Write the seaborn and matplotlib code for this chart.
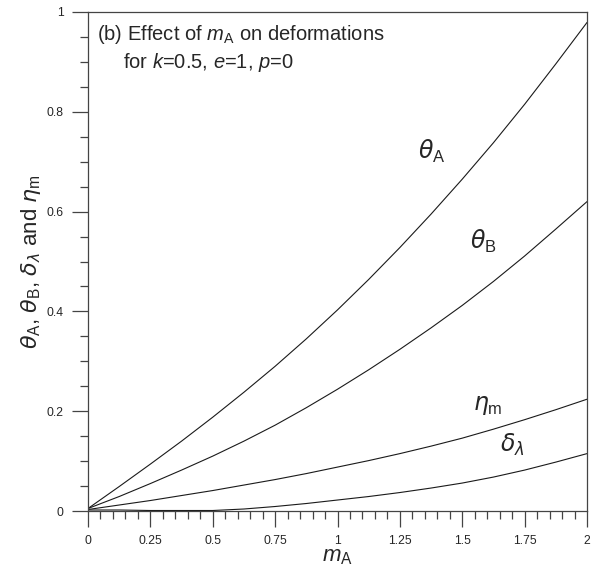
import numpy as np
import pandas as pd
import matplotlib
matplotlib.use("Agg")
import matplotlib.pyplot as plt
from matplotlib.ticker import MultipleLocator, FixedLocator
import seaborn as sns

# ---- data ----
m_A = [0.0, 0.125, 0.25, 0.375, 0.5, 0.625, 0.75, 0.875, 1.0,
       1.125, 1.25, 1.375, 1.5, 1.625, 1.75, 1.875, 2.0]
theta_A = [0.005, 0.049, 0.094, 0.140, 0.188, 0.238, 0.290, 0.345, 0.403,
           0.464, 0.528, 0.595, 0.665, 0.738, 0.815, 0.896, 0.979]
theta_B = [0.005, 0.029, 0.055, 0.082, 0.110, 0.140, 0.172, 0.207, 0.244,
           0.283, 0.324, 0.367, 0.412, 0.460, 0.511, 0.565, 0.620]
eta_m = [0.003, 0.012, 0.021, 0.031, 0.041, 0.052, 0.063, 0.075, 0.088,
         0.101, 0.115, 0.130, 0.146, 0.164, 0.183, 0.203, 0.224]
delta_l = [0.002, 0.002, 0.001, 0.001, 0.001, 0.004, 0.009, 0.015, 0.022,
           0.029, 0.037, 0.046, 0.056, 0.068, 0.082, 0.098, 0.115]

series_names = ["thetaA", "thetaB", "eta", "delta"]
series_vals = [theta_A, theta_B, eta_m, delta_l]

x_ticks = [0, 0.25, 0.5, 0.75, 1, 1.25, 1.5, 1.75, 2]
x_tick_labels = ["0", "0.25", "0.5", "0.75", "1", "1.25", "1.5", "1.75", "2"]
y_ticks = [0, 0.2, 0.4, 0.6, 0.8, 1.0]
y_tick_labels = ["0", "0.2", "0.4", "0.6", "0.8", "1"]

df = pd.concat([pd.DataFrame({"m": m_A, "v": v, "s": n})
                for n, v in zip(series_names, series_vals)], ignore_index=True)

sns.set_style("white")
plt.rcParams["font.family"] = ["Liberation Sans", "DejaVu Sans"]
plt.rcParams["mathtext.fontset"] = "custom"
plt.rcParams["mathtext.rm"] = "Liberation Sans"
plt.rcParams["mathtext.it"] = "DejaVu Sans:italic"
plt.rcParams["mathtext.sf"] = "Liberation Sans:italic"
plt.rcParams["mathtext.bf"] = "Liberation Sans:bold"

fig = plt.figure(figsize=(5.98, 5.79), dpi=100)
ax = fig.add_axes([88 / 598, 68 / 579, (587 - 88) / 598, (511 - 12) / 579])

sns.lineplot(data=df, x="m", y="v", hue="s", palette=["#1a1a1a"] * 4,
             linewidth=0.8, legend=False, ax=ax)

ax.set_xlim(0, 2)
ax.set_ylim(0, 1)
ax.xaxis.set_major_locator(FixedLocator(x_ticks))
ax.set_xticklabels(x_tick_labels)
ax.yaxis.set_major_locator(FixedLocator(y_ticks))
ax.set_yticklabels(y_tick_labels)
ax.xaxis.set_minor_locator(MultipleLocator(0.05))
ax.yaxis.set_minor_locator(MultipleLocator(0.05))
ax.tick_params(which="major", direction="out", length=11.5, width=0.9,
               color="#444444", labelsize=8.7, pad=6, bottom=True, left=True)
ax.tick_params(which="minor", direction="out", length=5.8, width=0.9,
               color="#444444", bottom=True, left=True)
for sp in ax.spines.values():
    sp.set_color("#444444")
    sp.set_linewidth(0.9)

ax.set_xlabel(r"$\mathsf{m}_{\rm A}$", fontsize=16, labelpad=-1)
ax.set_ylabel(r"$\theta_{\rm A}$, $\theta_{\rm B}$, $\delta_{\lambda}$ and $\eta_{\rm m}$",
              fontsize=16, labelpad=3)

ax.text(0.018, 0.977, r"(b) Effect of $\mathsf{m}_{\rm A}$ on deformations",
        transform=ax.transAxes, fontsize=14.5, va="top", ha="left")
ax.text(0.07, 0.921, r"for $\mathsf{k}$=0.5, $\mathsf{e}$=1, $\mathsf{p}$=0",
        transform=ax.transAxes, fontsize=14.5, va="top", ha="left")

ax.text(1.323, 0.72, r"$\theta_{\rm A}$", fontsize=17, va="center", ha="left")
ax.text(1.531, 0.54, r"$\theta_{\rm B}$", fontsize=17, va="center", ha="left")
ax.text(1.543, 0.212, r"$\eta_{\rm m}$", fontsize=17, va="center", ha="left")
ax.text(1.651, 0.132, r"$\delta_{\lambda}$", fontsize=17, va="center", ha="left")

fig.savefig("out.png", dpi=100)
